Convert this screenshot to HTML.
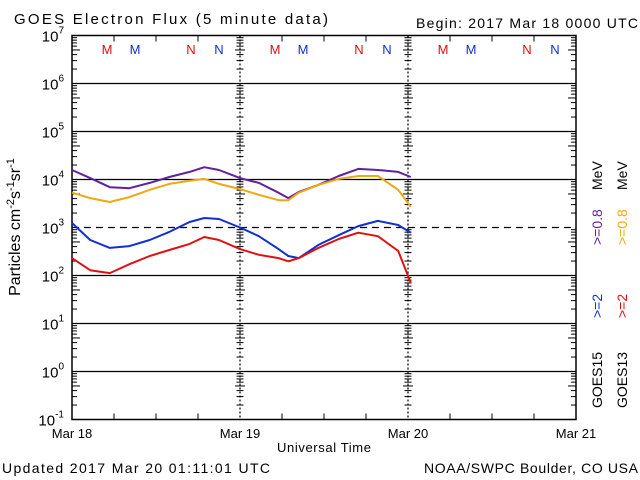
<!DOCTYPE html>
<html><head><meta charset="utf-8"><style>
html,body{margin:0;padding:0;background:#fff;}
svg{display:block;font-family:"Liberation Sans",sans-serif;}
</style></head><body>
<svg id="chart" width="640" height="480" viewBox="0 0 640 480" xmlns="http://www.w3.org/2000/svg">
<rect x="0" y="0" width="640" height="480" fill="#fff"/>
<text x="14" y="24" font-size="15" fill="#000" textLength="314" lengthAdjust="spacing">GOES Electron Flux (5 minute data)</text>
<text x="416" y="28" font-size="14" fill="#000" textLength="222" lengthAdjust="spacing">Begin: 2017 Mar 18 0000 UTC</text>
<g id="grid"></g>
<g id="axes"></g>
<g id="series"></g>
<g id="marks" font-size="13"></g>
<text transform="translate(20,227) rotate(-90)" text-anchor="middle" font-size="16">Particles cm<tspan dy="-6" font-size="11">-2</tspan><tspan dy="6">s</tspan><tspan dy="-6" font-size="11">-1</tspan><tspan dy="6">sr</tspan><tspan dy="-6" font-size="11">-1</tspan></text>
<text x="324" y="452" text-anchor="middle" font-size="13" textLength="94" lengthAdjust="spacing">Universal Time</text>
<text x="2" y="473" font-size="14" textLength="268" lengthAdjust="spacing">Updated 2017 Mar 20 01:11:01 UTC</text>
<text x="424" y="473" font-size="14" textLength="214" lengthAdjust="spacing">NOAA/SWPC Boulder, CO USA</text>
<g font-size="14">
<text transform="translate(602,408) rotate(-90)" fill="#000">GOES15</text>
<text transform="translate(602,318) rotate(-90)" fill="#1030d0">&gt;=2</text>
<text transform="translate(602,245) rotate(-90)" fill="#6020a0">&gt;=0.8</text>
<text transform="translate(602,190) rotate(-90)" fill="#000">MeV</text>
<text transform="translate(627,408) rotate(-90)" fill="#000">GOES13</text>
<text transform="translate(627,318) rotate(-90)" fill="#e01010">&gt;=2</text>
<text transform="translate(627,245) rotate(-90)" fill="#f0a810">&gt;=0.8</text>
<text transform="translate(627,190) rotate(-90)" fill="#000">MeV</text>
</g>
</svg>
<script>
const hours=[0,2.6,5.4,8.2,11.1,13.9,16.8,18.9,21.0,24.0,26.7,29.5,30.9,32.4,35.2,38.1,40.9,43.7,46.6,48.4];
const g15_08=[1.58e4,1.07e4,6.9e3,6.6e3,8.5e3,1.13e4,1.44e4,1.8e4,1.58e4,1.07e4,8.5e3,5.3e3,4.1e3,5.5e3,7.7e3,1.18e4,1.66e4,1.58e4,1.44e4,1.13e4];
const g13_08=[5.3e3,4.1e3,3.4e3,4.3e3,6.1e3,8.1e3,9.4e3,1.03e4,8.1e3,6.3e3,4.8e3,3.7e3,3.7e3,5.3e3,7.7e3,1.03e4,1.18e4,1.18e4,6.1e3,2.7e3];
const g15_2=[1.24e3,550,375,410,550,810,1.3e3,1.58e3,1.5e3,1.0e3,660,355,255,230,435,690,1.07e3,1.37e3,1.13e3,780];
const g13_2=[230,129,112,172,255,340,455,635,550,355,270,230,198,230,375,575,780,660,325,70];
const dayLabels=["Mar 18","Mar 19","Mar 20","Mar 21"];
const expLabels=[7,6,5,4,3,2,1,0,-1];
const NS="http://www.w3.org/2000/svg";
const X0=72,X1=576,Y0=35.5,DEC=48;
const xs=h=>X0+(X1-X0)*h/72;
const ys=v=>Y0+(7-Math.log10(v))*DEC;
function mk(tag,attrs,parent){const e=document.createElementNS(NS,tag);for(const k in attrs)e.setAttribute(k,attrs[k]);parent.appendChild(e);return e;}
const grid=document.getElementById('grid'),axes=document.getElementById('axes'),ser=document.getElementById('series'),marks=document.getElementById('marks');
expLabels.forEach(p=>{
  const y=ys(Math.pow(10,p));
  if(p<7&&p>-1){const l=mk('line',{x1:X0,x2:X1,y1:y,y2:y,stroke:'#000','stroke-width':1.2,'stroke-dasharray':p===3?'7,5':'none'},grid);
  
  }
  const t=mk('text',{x:X0-8,y:y+6,'text-anchor':'end','font-size':15},axes);
  
  
  t.textContent='10';const s=mk('tspan',{dy:-8,'font-size':10},t);s.textContent=p;
});
const fr=mk('rect',{x:X0,y:Y0,width:X1-X0,height:ys(0.1)-Y0,fill:'none',stroke:'#000','stroke-width':1.5},axes);


for(let p=-1;p<7;p++){for(let m=2;m<10;m++){const y=ys(m*Math.pow(10,p));const len=m===5?8:5;
  [[X0,X0+len],[X1-len,X1]].forEach(([a,b])=>mk('line',{x1:a,x2:b,y1:y,y2:y,stroke:'#000'},axes));
  [1,2].forEach(d=>{const x=xs(d*24);mk('line',{x1:x-len/2-1,x2:x+len/2+1,y1:y,y2:y,stroke:'#000'},axes);});
}}
dayLabels.forEach((d,i)=>{const x=xs(i*24);
  if(i===1||i===2){const l=mk('line',{x1:x,x2:x,y1:Y0,y2:ys(0.1),stroke:'#000','stroke-width':1.2,'stroke-dasharray':'2,2'},grid);
  
  }
  const t=mk('text',{x:x,y:438,'text-anchor':'middle','font-size':13},axes);
  
  
  t.textContent=d;
});
for(let h=6;h<72;h+=6){const x=xs(h);if(h%24===0)continue;
  mk('line',{x1:x,x2:x,y1:ys(0.1),y2:ys(0.1)-6,stroke:'#000'},axes);
  mk('line',{x1:x,x2:x,y1:Y0,y2:Y0+6,stroke:'#000'},axes);}
const mn=[[5,'M','#e01010'],[9,'M','#1030d0'],[17,'N','#e01010'],[21,'N','#1030d0']];
[0,1,2].forEach(d=>mn.forEach(([h,c,col])=>{const t=mk('text',{x:xs(d*24+h),y:54,'text-anchor':'middle',fill:col},marks);
  
  
  t.textContent=c;}));
[[g15_08,'#6020a0','goes15-0.8mev'],[g13_08,'#f0a810','goes13-0.8mev'],[g15_2,'#1030d0','goes15-2mev'],[g13_2,'#e01010','goes13-2mev']].forEach(([arr,col,name])=>{
  const pts=arr.map((v,i)=>xs(hours[i]).toFixed(1)+','+ys(v).toFixed(1)).join(' ');
  const p=mk('polyline',{points:pts,fill:'none',stroke:col,'stroke-width':2,'stroke-linejoin':'round'},ser);
  
  
});
</script>
</body></html>
